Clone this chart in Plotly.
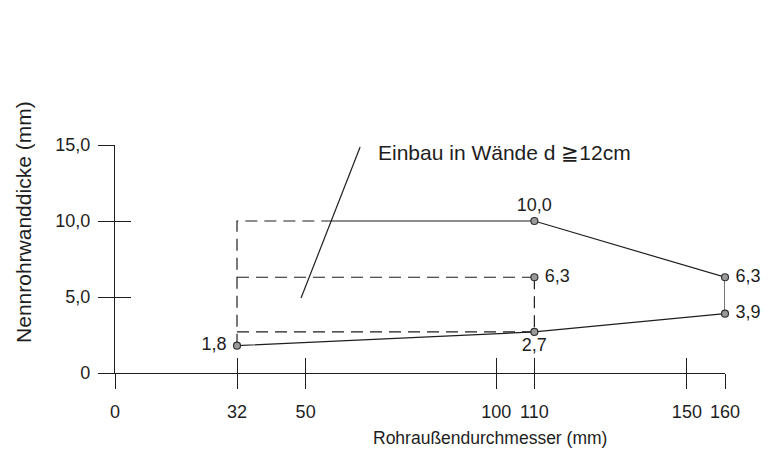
import plotly.graph_objects as go

# ---- data ----
x_ticks = [0, 32, 50, 100, 110, 150, 160]
x_ticktext = ["0", "32", "50", "100", "110", "150", "160"]
y_ticks = [0, 5, 10, 15]
y_ticktext = ["0", "5,0", "10,0", "15,0"]

pt_x = [32, 110, 110, 110, 160, 160]
pt_y = [1.8, 10.0, 6.3, 2.7, 6.3, 3.9]
pt_lab = ["1,8 ", "10,0", " 6,3", "2,7", " 6,3", " 3,9"]
pt_pos = ["middle left", "top center", "middle right", "bottom center", "middle right", "middle right"]

solid_x = [56, 110, 160, 160, 110, 32]
solid_y = [10.0, 10.0, 6.3, 3.9, 2.7, 1.8]

dash_x = [32, 32, 56, None, 32, 110, None, 32, 110, None, 110, 110]
dash_y = [1.8, 10.0, 10.0, None, 6.3, 6.3, None, 2.7, 2.7, None, 6.3, 2.7]

leader_x = [48.8, 64.3]
leader_y = [4.93, 14.87]
note_text = "Einbau in Wände d \u226712cm"
note_x, note_y = 68.5, 14.5

FONT = "Liberation Sans, Arial, sans-serif"
INK = "#1e1e1e"

fig = go.Figure()
fig.add_trace(go.Scatter(x=dash_x, y=dash_y, mode="lines",
                         line=dict(color=INK, width=1.2, dash="12px,7px"),
                         hoverinfo="skip", showlegend=False))
fig.add_trace(go.Scatter(x=solid_x, y=solid_y, mode="lines",
                         line=dict(color=INK, width=1.2),
                         hoverinfo="skip", showlegend=False))
fig.add_trace(go.Scatter(x=leader_x, y=leader_y, mode="lines",
                         line=dict(color=INK, width=1.2),
                         hoverinfo="skip", showlegend=False, cliponaxis=False))
fig.add_trace(go.Scatter(x=pt_x, y=pt_y, mode="markers+text",
                         text=pt_lab, textposition=pt_pos,
                         textfont=dict(family=FONT, size=18, color=INK),
                         marker=dict(size=7, color="#9a9a9a",
                                     line=dict(color="#303030", width=1.2)),
                         showlegend=False, cliponaxis=False))
# overlay trace for inside ticks
fig.add_trace(go.Scatter(x=[0], y=[0], xaxis="x2", yaxis="y2", mode="markers",
                         marker=dict(opacity=0), hoverinfo="skip", showlegend=False))

fig.add_annotation(x=note_x, y=note_y, text=note_text, showarrow=False,
                   xanchor="left", yanchor="middle",
                   font=dict(family=FONT, size=21, color=INK))

fig.add_annotation(xref="paper", yref="paper", x=-0.151, y=0.662,
                   text="Nennrohrwanddicke (mm)", textangle=-90, showarrow=False,
                   xanchor="center", yanchor="middle",
                   font=dict(family=FONT, size=21, color=INK))
fig.add_annotation(xref="paper", yref="paper", x=0.615, y=-0.285,
                   text="Rohraußendurchmesser (mm)", showarrow=False,
                   xanchor="center", yanchor="middle",
                   font=dict(family=FONT, size=17.5, color=INK))

axis_common = dict(showgrid=False, zeroline=False, linecolor=INK, linewidth=1.2,
                   tickcolor=INK, tickwidth=1.2)

fig.update_layout(
    width=772, height=470,
    margin=dict(l=107, r=55, t=137, b=105),
    paper_bgcolor="white", plot_bgcolor="white",
    font=dict(family=FONT, size=18, color=INK),
    xaxis=dict(range=[0, 160], tickvals=x_ticks, ticktext=x_ticktext,
               showline=True, ticks="outside", ticklen=15,
               ticklabelstandoff=7, **axis_common),
    yaxis=dict(range=[0, 15], tickvals=y_ticks, ticktext=y_ticktext,
               showline=True, ticks="outside", ticklen=16,
               ticklabelstandoff=4, **axis_common),
    xaxis2=dict(range=[0, 160], overlaying="x", tickvals=x_ticks,
                showticklabels=False, showline=False, ticks="inside", ticklen=15,
                anchor="y2", **axis_common),
    yaxis2=dict(range=[0, 15], overlaying="y", tickvals=y_ticks,
                showticklabels=False, showline=False, ticks="inside", ticklen=16,
                anchor="x2", **axis_common),
)

fig.write_html("out.html")
